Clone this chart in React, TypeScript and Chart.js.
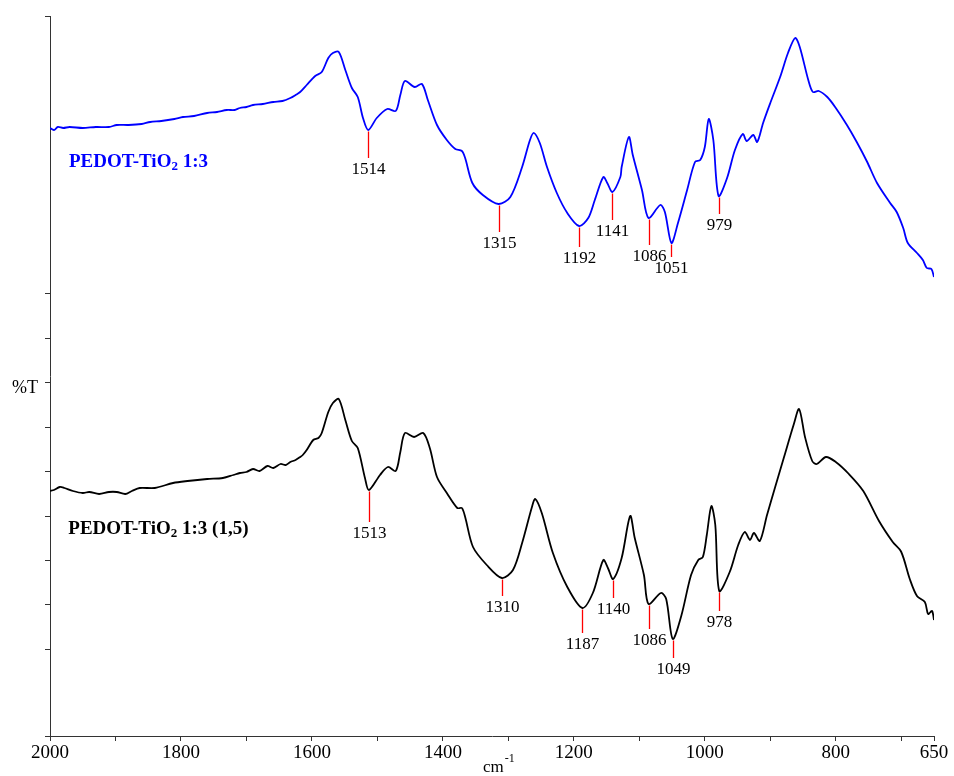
import React, { useEffect, useRef } from 'react';
import { Chart, registerables } from 'chart.js';

Chart.register(...registerables);

// Wavenumbers (cm-1) and transmittance (arbitrary %T units) of the upper (blue) spectrum
const topWavenumbers = [2000, 1994, 1988, 1980, 1970, 1950, 1930, 1910, 1898, 1880, 1860, 1847, 1830, 1810, 1797, 1780, 1760, 1745, 1730, 1718, 1710, 1700, 1690, 1675, 1659, 1645, 1633, 1625, 1618, 1608, 1595, 1585, 1575, 1568, 1559, 1549, 1539, 1530, 1522, 1514, 1501, 1485, 1472, 1465, 1458, 1443, 1432, 1423, 1409, 1394, 1381, 1371, 1366, 1355, 1339, 1315, 1297, 1279, 1267, 1261, 1252, 1241, 1226, 1210, 1192, 1178, 1168, 1155, 1149, 1141, 1129, 1127, 1116, 1110, 1096, 1086, 1068, 1061, 1051, 1041, 1027, 1015, 1007, 1000, 994, 987, 979, 966, 954, 942, 936, 926, 920, 911, 900, 885, 873, 862, 855, 842, 835, 826, 813, 801, 783, 768, 752, 737, 717, 707, 697, 690, 676, 667, 661, 654, 650];
const topValues = [608, 606, 609, 608, 609, 608, 609, 609, 611, 611, 612, 614, 615, 617, 619, 620, 623, 624, 626, 626, 628, 629, 631, 632, 634, 635, 638, 641, 644, 651, 660, 664, 678, 683, 684, 666, 648, 639, 618, 606, 618, 627, 625, 641, 655, 649, 652, 636, 611, 596, 587, 585, 578, 553, 541, 532, 539, 569, 596, 603, 593, 569, 543, 523, 510, 518, 536, 559, 553, 544, 559, 569, 599, 581, 546, 518, 531, 524, 493, 513, 546, 574, 576, 589, 617, 596, 540, 558, 586, 602, 595, 601, 594, 613, 633, 659, 683, 698, 689, 656, 644, 645, 639, 629, 611, 594, 574, 553, 533, 524, 508, 493, 483, 476, 468, 467, 459];

// Lower (black) spectrum
const bottomWavenumbers = [2000, 1994, 1985, 1978, 1965, 1950, 1940, 1925, 1910, 1898, 1885, 1875, 1863, 1840, 1812, 1790, 1760, 1736, 1720, 1710, 1700, 1690, 1680, 1668, 1659, 1648, 1640, 1633, 1625, 1618, 1614, 1608, 1598, 1590, 1585, 1575, 1568, 1559, 1549, 1539, 1530, 1519, 1513, 1496, 1484, 1472, 1465, 1458, 1444, 1430, 1420, 1409, 1394, 1378, 1371, 1366, 1354, 1333, 1310, 1293, 1279, 1264, 1259, 1249, 1232, 1210, 1187, 1171, 1155, 1148, 1140, 1127, 1114, 1107, 1093, 1086, 1067, 1059, 1049, 1036, 1021, 1010, 1003, 997, 990, 984, 978, 962, 949, 939, 931, 925, 916, 905, 893, 879, 864, 856, 847, 836, 829, 815, 800, 780, 758, 734, 713, 700, 687, 676, 664, 659, 653, 650];
const bottomValues = [245, 246, 249, 248, 245, 243, 244, 242, 244, 244, 242, 245, 248, 248, 253, 255, 257, 258, 261, 263, 264, 267, 265, 270, 268, 272, 271, 274, 276, 279, 281, 286, 296, 298, 303, 324, 333, 337, 316, 295, 288, 258, 246, 261, 269, 265, 284, 303, 299, 303, 288, 259, 243, 228, 228, 219, 189, 171, 158, 166, 193, 229, 237, 223, 183, 149, 128, 143, 176, 168, 157, 178, 220, 198, 161, 132, 143, 137, 97, 120, 161, 176, 179, 201, 230, 211, 145, 164, 191, 204, 196, 203, 195, 221, 248, 279, 312, 327, 299, 275, 272, 279, 274, 262, 245, 215, 194, 184, 157, 140, 134, 122, 125, 116];

// Axis ticks
const xTickValues = [2000, 1900, 1800, 1700, 1600, 1500, 1400, 1300, 1200, 1100, 1000, 900, 800, 700, 650];
const xTickLabels = ['2000', '', '1800', '', '1600', '', '1400', '', '1200', '', '1000', '', '800', '', '650'];
const yTickValues = [0, 87, 132, 176, 220, 265, 309, 354, 398, 443, 720];

// Peak annotations
const topPeaks = [1514, 1315, 1192, 1141, 1086, 1051, 979];
const bottomPeaks = [1513, 1310, 1187, 1140, 1086, 1049, 978];

// Series names (main text, subscript, rest)
const topName = ['PEDOT-TiO', '2', ' 1:3'];
const bottomName = ['PEDOT-TiO', '2', ' 1:3 (1,5)'];

// Layout of the annotation marks (pixel lengths of the red drop lines)
const topDrops = [28, 28, 21, 28, 27, 14, 18];
const bottomDrops = [32, 18, 25, 19, 25, 19, 20];

const SERIF = '"Liberation Serif", "Times New Roman", serif';

function valueAt(wns: number[], vals: number[], wn: number): number {
  for (let i = 0; i < wns.length - 1; i++) {
    const a = wns[i];
    const b = wns[i + 1];
    if (wn <= a && wn >= b) {
      const t = a === b ? 0 : (a - wn) / (a - b);
      return vals[i] + t * (vals[i + 1] - vals[i]);
    }
  }
  return vals[vals.length - 1];
}

const annotatePlugin = {
  id: 'annotate',
  afterDatasetsDraw(chart: any) {
    const { ctx, scales, chartArea } = chart;
    const x = scales.x;
    const y = scales.y;
    ctx.save();

    const drawPeaks = (wns: number[], vals: number[], peaks: number[], drops: number[]) => {
      peaks.forEach((p, i) => {
        const px = Math.round(x.getPixelForValue(p)) + 0.5;
        const py = y.getPixelForValue(valueAt(wns, vals, p));
        const end = py + drops[i];
        ctx.strokeStyle = '#ff0000';
        ctx.lineWidth = 1.3;
        ctx.beginPath();
        ctx.moveTo(px, py + 1.5);
        ctx.lineTo(px, end);
        ctx.stroke();
        ctx.fillStyle = '#000000';
        ctx.font = `17px ${SERIF}`;
        ctx.textAlign = 'center';
        ctx.textBaseline = 'middle';
        ctx.fillText(String(p), px, end + 12);
      });
    };
    drawPeaks(topWavenumbers, topValues, topPeaks, topDrops);
    drawPeaks(bottomWavenumbers, bottomValues, bottomPeaks, bottomDrops);

    const drawName = (parts: string[], wn: number, val: number, color: string) => {
      let cx = x.getPixelForValue(wn);
      const base = y.getPixelForValue(val);
      ctx.fillStyle = color;
      ctx.textAlign = 'left';
      ctx.textBaseline = 'alphabetic';
      ctx.font = `bold 19px ${SERIF}`;
      ctx.fillText(parts[0], cx, base);
      cx += ctx.measureText(parts[0]).width;
      ctx.font = `bold 13px ${SERIF}`;
      ctx.fillText(parts[1], cx, base + 3);
      cx += ctx.measureText(parts[1]).width;
      ctx.font = `bold 19px ${SERIF}`;
      ctx.fillText(parts[2], cx, base);
    };
    drawName(topName, 1971, 569, '#0000ff');
    drawName(bottomName, 1972, 202, '#000000');

    // %T axis label
    ctx.fillStyle = '#000000';
    ctx.font = `18px ${SERIF}`;
    ctx.textAlign = 'left';
    ctx.textBaseline = 'middle';
    ctx.fillText('%T', chartArea.left - 38, y.getPixelForValue(348));

    // cm-1 axis label
    const cmX = (chartArea.left + chartArea.right) / 2 - 9;
    const cmBase = chart.height - 4;
    ctx.textBaseline = 'alphabetic';
    ctx.font = `17px ${SERIF}`;
    ctx.fillText('cm', cmX, cmBase);
    const w = ctx.measureText('cm').width;
    ctx.font = `12px ${SERIF}`;
    ctx.fillText('-1', cmX + w + 1, cmBase - 10);

    ctx.restore();
  },
};

export default function App() {
  const canvasRef = useRef<HTMLCanvasElement | null>(null);

  useEffect(() => {
    const canvas = canvasRef.current;
    if (!canvas) return;
    const chart = new Chart(canvas, {
      type: 'line',
      data: {
        datasets: [
          {
            label: 'PEDOT-TiO2 1:3',
            data: topWavenumbers.map((wn, i) => ({ x: wn, y: topValues[i] })),
            borderColor: '#0000ff',
            borderWidth: 1.8,
            pointRadius: 0,
            tension: 0.3,
            fill: false,
          },
          {
            label: 'PEDOT-TiO2 1:3 (1,5)',
            data: bottomWavenumbers.map((wn, i) => ({ x: wn, y: bottomValues[i] })),
            borderColor: '#000000',
            borderWidth: 1.8,
            pointRadius: 0,
            tension: 0.3,
            fill: false,
          },
        ],
      },
      options: {
        responsive: false,
        animation: false,
        layout: { padding: { left: 0, right: 20, top: 16, bottom: 0 } },
        plugins: {
          legend: { display: false },
          tooltip: { enabled: false },
          title: { display: false },
        },
        scales: {
          x: {
            type: 'linear',
            reverse: true,
            min: 650,
            max: 2000,
            afterBuildTicks: (scale: any) => {
              scale.ticks = xTickValues.map((v) => ({ value: v }));
            },
            afterFit: (scale: any) => {
              scale.height = 40;
            },
            ticks: {
              autoSkip: false,
              maxRotation: 0,
              padding: 1,
              color: '#000000',
              font: { family: SERIF, size: 19 },
              callback: (value: any) => {
                const idx = xTickValues.indexOf(Number(value));
                return idx >= 0 ? xTickLabels[idx] : '';
              },
            },
            grid: {
              drawOnChartArea: false,
              drawTicks: true,
              tickLength: 5,
              color: '#333333',
            },
            border: { display: true, color: '#333333', width: 1 },
          },
          y: {
            type: 'linear',
            min: 0,
            max: 720,
            afterBuildTicks: (scale: any) => {
              scale.ticks = yTickValues.map((v) => ({ value: v }));
            },
            afterFit: (scale: any) => {
              scale.width = 50;
            },
            ticks: { display: false },
            grid: {
              drawOnChartArea: false,
              drawTicks: true,
              tickLength: 5,
              color: '#333333',
            },
            border: { display: true, color: '#333333', width: 1 },
          },
        },
      },
      plugins: [annotatePlugin],
    } as any);
    return () => {
      chart.destroy();
    };
  }, []);

  return (
    <div style={{ position: 'fixed', left: 0, top: 0, width: 954, height: 776, background: '#ffffff' }}>
      <canvas ref={canvasRef} width={954} height={776} style={{ width: 954, height: 776, display: 'block' }} />
    </div>
  );
}
